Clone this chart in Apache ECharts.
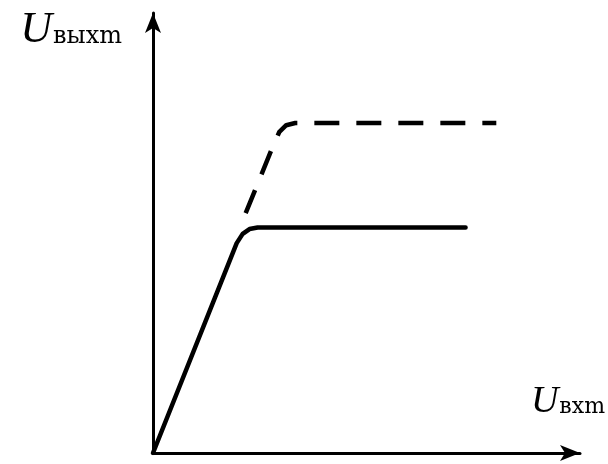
<!DOCTYPE html>
<html>
<head>
<meta charset="utf-8">
<script src="https://cdn.jsdelivr.net/npm/echarts@6/dist/echarts.min.js"></script>
<style>
  html, body { margin: 0; padding: 0; background: #fff; }
  #chart { width: 608px; height: 464px; }
</style>
</head>
<body>
<div id="chart"></div>
<script>
// Transfer characteristic U_выхm (U_вхm) (0..100 scale)

// solid: real characteristic, saturates
const solidX = [0, 19.6, 21.0, 22.6, 24.5, 73.2];
const solidY = [0, 47.7, 49.8, 50.9, 51.25, 51.25];

// dashed: continuation with higher saturation level
const dashX = [21.7, 28.2, 29.6, 31.2, 33.3, 80.4];
const dashY = [54.5, 70.0, 73.0, 74.5, 75.0, 75.0];

const yName = '{u|U}{s|выхm}';
const xName = '{u|U}{s|вхm}';

const chart = echarts.init(document.getElementById('chart'));

const axisCommon = {
    type: 'value',
    min: 0,
    max: 100,
    splitLine: { show: false },
    axisTick: { show: false },
    axisLabel: { show: false },
    axisLine: {
        show: true,
        symbol: ['none', 'arrow'],
        symbolSize: [12, 20],
        lineStyle: { color: '#000', width: 3 }
    }
};

chart.setOption({
    animation: false,
    grid: { left: 153, right: 26, top: 13, bottom: 11 },
    xAxis: Object.assign({}, axisCommon, {
        name: xName,
        nameLocation: 'end',
        nameGap: 25,
        nameTextStyle: {
            align: 'right',
            verticalAlign: 'bottom',
            padding: [0, 0, 32, 0],
            rich: {
                u: { fontFamily: 'Liberation Serif', fontStyle: 'italic', fontSize: 38, color: '#000', verticalAlign: 'bottom' },
                s: { fontFamily: 'DejaVu Serif', fontSize: 22, color: '#000', verticalAlign: 'bottom', padding: [0, 0, 3, 1] }
            }
        }
    }),
    yAxis: Object.assign({}, axisCommon, {
        name: yName,
        nameLocation: 'end',
        nameGap: -17,
        nameTextStyle: {
            align: 'right',
            verticalAlign: 'middle',
            padding: [0, 31, 0, 0],
            rich: {
                u: { fontFamily: 'Liberation Serif', fontStyle: 'italic', fontSize: 44, color: '#000', verticalAlign: 'bottom' },
                s: { fontFamily: 'DejaVu Serif', fontSize: 24, color: '#000', verticalAlign: 'bottom', padding: [0, 0, 3, 1] }
            }
        }
    }),
    series: [
        {
            type: 'line',
            data: solidX.map((x, i) => [x, solidY[i]]),
            showSymbol: false,
            lineStyle: { color: '#000', width: 4.5, cap: 'round', join: 'round' }
        },
        {
            type: 'line',
            data: dashX.map((x, i) => [x, dashY[i]]),
            showSymbol: false,
            lineStyle: { color: '#000', width: 4.5, type: [25, 17], join: 'round' }
        }
    ]
});
</script>
</body>
</html>
